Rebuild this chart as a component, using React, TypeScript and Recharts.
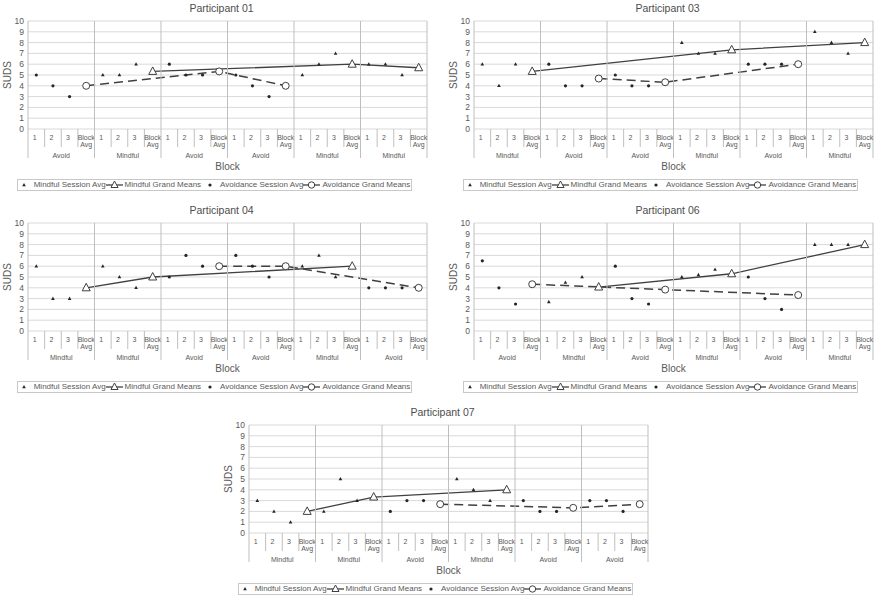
import React from "react";
import {
  CartesianGrid,
  ComposedChart,
  Label,
  Legend,
  Line,
  XAxis,
  YAxis,
} from "recharts";

// sub-categories inside each block, and the y ticks
const SUBS = ["1", "2", "3", "Block Avg"];
const Y_TICKS = [0, 1, 2, 3, 4, 5, 6, 7, 8, 9, 10];
const LEGEND_ORDER = ["ms", "mg", "as", "ag"];

// Participant 01
const P01_BLOCKS = ["Avoid", "Mindful", "Avoid", "Avoid", "Mindful", "Mindful"];
const P01_SESSIONS = [[5, 4, 3], [5, 5, 6], [6, 5, 5], [5, 4, 3], [5, 6, 7], [6, 6, 5]];
const P01_MEANS = [4, 5.33, 5.33, 4, 6, 5.67];

// Participant 03
const P03_BLOCKS = ["Mindful", "Avoid", "Avoid", "Mindful", "Avoid", "Mindful"];
const P03_SESSIONS = [[6, 4, 6], [6, 4, 4], [5, 4, 4], [8, 7, 7], [6, 6, 6], [9, 8, 7]];
const P03_MEANS = [5.33, 4.67, 4.33, 7.33, 6, 8];

// Participant 04
const P04_BLOCKS = ["Mindful", "Mindful", "Avoid", "Avoid", "Mindful", "Avoid"];
const P04_SESSIONS = [[6, 3, 3], [6, 5, 4], [5, 7, 6], [7, 6, 5], [6, 7, 5], [4, 4, 4]];
const P04_MEANS = [4, 5, 6, 6, 6, 4];

// Participant 06
const P06_BLOCKS = ["Avoid", "Mindful", "Avoid", "Mindful", "Avoid", "Mindful"];
const P06_SESSIONS = [[6.5, 4, 2.5], [2.7, 4.5, 5], [6, 3, 2.5], [5, 5.2, 5.7], [5, 3, 2], [8, 8, 8]];
const P06_MEANS = [4.33, 4.07, 3.83, 5.3, 3.33, 8];

// Participant 07
const P07_BLOCKS = ["Mindful", "Mindful", "Avoid", "Mindful", "Avoid", "Avoid"];
const P07_SESSIONS = [[3, 2, 1], [2, 5, 3], [2, 3, 3], [5, 4, 3], [3, 2, 2], [3, 3, 2]];
const P07_MEANS = [2, 3.33, 2.67, 4, 2.33, 2.67];

const FONT = '"Liberation Sans", Arial, sans-serif';
const TEXT = "#595959";
const INK = "#404040";
const SEP = "#bfbfbf";

const W = 440;
const H = 200;
const PLOT_TOP = 21;
const PLOT_BOTTOM = 129;
const PLOT_LEFT = 28;
const PLOT_RIGHT = 427;
const BAND = (PLOT_RIGHT - PLOT_LEFT) / 24;

type Row = {
  key: string;
  sub: string;
  group: string;
  ms: number | null;
  mg: number | null;
  as: number | null;
  ag: number | null;
};

function buildRows(blocks: string[], sessions: number[][], means: number[]): Row[] {
  const rows: Row[] = [];
  blocks.forEach((g, b) => {
    const mindful = g === "Mindful";
    SUBS.forEach((sub, s) => {
      const v = s < 3 ? sessions[b][s] : means[b];
      rows.push({
        key: `${b}-${s}`,
        sub,
        group: g,
        ms: s < 3 && mindful ? v : null,
        mg: s === 3 && mindful ? v : null,
        as: s < 3 && !mindful ? v : null,
        ag: s === 3 && !mindful ? v : null,
      });
    });
  });
  return rows;
}

function SubTick(props: any) {
  const { x, payload, rows } = props;
  const i = payload.index;
  const row: Row = rows[i];
  const left = x - BAND / 2;
  return (
    <g>
      {i % 4 === 0 ? (
        <line x1={left} x2={left} y1={PLOT_TOP} y2={158} stroke={SEP} />
      ) : (
        <line x1={left} x2={left} y1={PLOT_BOTTOM} y2={147} stroke={SEP} />
      )}
      {i === rows.length - 1 && (
        <line x1={x + BAND / 2} x2={x + BAND / 2} y1={PLOT_TOP} y2={158} stroke={SEP} />
      )}
      {row.sub === "Block Avg" ? (
        <text x={x} y={139.5} fontSize={7} fill={TEXT} textAnchor="middle" fontFamily={FONT}>
          <tspan x={x}>Block</tspan>
          <tspan x={x} dy={7}>Avg</tspan>
        </text>
      ) : (
        <text x={x - 1.5} y={139.5} fontSize={7} fill={TEXT} textAnchor="middle" fontFamily={FONT}>
          {row.sub}
        </text>
      )}
      {i % 4 === 1 && (
        <text x={x + BAND / 2} y={157.5} fontSize={7} fill={TEXT} textAnchor="middle" fontFamily={FONT}>
          {row.group}
        </text>
      )}
    </g>
  );
}

const smallTri = (p: any) =>
  p.cy == null || p.value == null ? (
    <g key={`st-${p.index}`} />
  ) : (
    <polygon
      key={`st-${p.index}`}
      points={`${p.cx},${p.cy - 2} ${p.cx - 1.8},${p.cy + 1.3} ${p.cx + 1.8},${p.cy + 1.3}`}
      fill="#262626"
    />
  );

const smallDot = (p: any) =>
  p.cy == null || p.value == null ? (
    <g key={`sd-${p.index}`} />
  ) : (
    <circle key={`sd-${p.index}`} cx={p.cx} cy={p.cy} r={1.6} fill="#262626" />
  );

const openTri = (p: any) =>
  p.cy == null || p.value == null ? (
    <g key={`ot-${p.index}`} />
  ) : (
    <polygon
      key={`ot-${p.index}`}
      points={`${p.cx},${p.cy - 4.5} ${p.cx - 4},${p.cy + 3} ${p.cx + 4},${p.cy + 3}`}
      fill="#fff"
      stroke={INK}
      strokeWidth={1}
    />
  );

const openCircle = (p: any) =>
  p.cy == null || p.value == null ? (
    <g key={`oc-${p.index}`} />
  ) : (
    <circle key={`oc-${p.index}`} cx={p.cx} cy={p.cy} r={3.5} fill="#fff" stroke={INK} strokeWidth={1} />
  );

function LegendIcon({ k }: { k: string }) {
  if (k === "ms")
    return (
      <svg width={10} height={10} style={{ flexShrink: 0 }}>
        <polygon points="5,3 3.2,6.3 6.8,6.3" fill="#262626" />
      </svg>
    );
  if (k === "as")
    return (
      <svg width={10} height={10} style={{ flexShrink: 0 }}>
        <circle cx={5} cy={5} r={1.6} fill="#262626" />
      </svg>
    );
  return (
    <svg width={17} height={10} style={{ flexShrink: 0 }}>
      <line x1={0} x2={17} y1={5} y2={5} stroke={INK} strokeWidth={1.3} />
      {k === "mg" ? (
        <polygon points="8.5,1 5,7.5 12,7.5" fill="#fff" stroke={INK} />
      ) : (
        <circle cx={8.5} cy={5} r={3.2} fill="#fff" stroke={INK} />
      )}
    </svg>
  );
}

function LegendBox(props: any) {
  const items = [...(props.payload ?? [])].sort(
    (a: any, b: any) => LEGEND_ORDER.indexOf(a.dataKey) - LEGEND_ORDER.indexOf(b.dataKey)
  );
  return (
    <div
      style={{
        border: "1px solid #c8c8c8",
        height: 12,
        width: 395,
        boxSizing: "border-box",
        display: "flex",
        alignItems: "center",
        justifyContent: "center",
        fontFamily: FONT,
        fontSize: 8,
        lineHeight: "10px",
        color: TEXT,
        whiteSpace: "nowrap",
        overflow: "visible",
      }}
    >
      {items.map((it: any, i: number) => {
        const session = it.dataKey === "ms" || it.dataKey === "as";
        return (
          <span
            key={i}
            style={{
              display: "inline-flex",
              alignItems: "center",
              flexShrink: 0,
              marginLeft: i > 0 && session ? 4 : 0,
            }}
          >
            <LegendIcon k={it.dataKey} />
            <span style={{ marginLeft: session ? 5 : 2, flexShrink: 0, whiteSpace: "nowrap" }}>{it.value}</span>
          </span>
        );
      })}
    </div>
  );
}

function SudsLabel(props: any) {
  const { viewBox } = props;
  const cx = 7;
  const cy = viewBox.y + viewBox.height / 2;
  return (
    <text
      x={cx}
      y={cy}
      transform={`rotate(-90 ${cx} ${cy})`}
      textAnchor="middle"
      dominantBaseline="central"
      fontSize={10}
      fill={TEXT}
      fontFamily={FONT}
    >
      SUDS
    </text>
  );
}

function Panel({ title, rows, left, top }: { title: string; rows: Row[]; left: number; top: number }) {
  return (
    <div style={{ position: "absolute", left, top, width: W, height: H }}>
      <div
        style={{
          position: "absolute",
          left: 0,
          top: 2,
          width: PLOT_LEFT + PLOT_RIGHT - 12,
          textAlign: "center",
          fontFamily: FONT,
          fontSize: 10.5,
          lineHeight: "12px",
          color: "#4d4d4d",
        }}
      >
        {title}
      </div>
      <ComposedChart
        width={W}
        height={H}
        data={rows}
        margin={{ top: PLOT_TOP, right: W - PLOT_RIGHT, bottom: H - PLOT_BOTTOM - 50, left: 0 }}
        style={{ fontFamily: FONT }}
      >
        <CartesianGrid vertical={false} stroke="#d9d9d9" />
        <XAxis
          dataKey="key"
          scale="band"
          interval={0}
          height={50}
          tickLine={false}
          axisLine={false}
          tick={(p: any) => <SubTick {...p} rows={rows} />}
        >
          <Label value="Block" position="insideBottom" offset={9} fill={TEXT} fontSize={10} />
        </XAxis>
        <YAxis
          type="number"
          domain={[0, 10]}
          ticks={Y_TICKS}
          interval={0}
          width={PLOT_LEFT}
          tickLine={false}
          axisLine={false}
          tickSize={2}
          tickMargin={2}
          tick={{ fontSize: 8.5, fill: TEXT }}
        >
          <Label content={SudsLabel} />
        </YAxis>
        <Legend
          layout="horizontal"
          verticalAlign="middle"
          align="center"
          wrapperStyle={{ left: 17, top: 179, width: 395, height: 12 }}
          content={LegendBox}
        />
        <Line
          dataKey="ms"
          name="Mindful Session Avg"
          stroke="none"
          dot={smallTri}
          activeDot={false}
          isAnimationActive={false}
        />
        <Line
          dataKey="mg"
          name="Mindful Grand Means"
          stroke={INK}
          strokeWidth={1.3}
          connectNulls
          dot={openTri}
          activeDot={false}
          isAnimationActive={false}
        />
        <Line
          dataKey="as"
          name="Avoidance Session Avg"
          stroke="none"
          dot={smallDot}
          activeDot={false}
          isAnimationActive={false}
        />
        <Line
          dataKey="ag"
          name="Avoidance Grand Means"
          stroke={INK}
          strokeWidth={1.5}
          strokeDasharray="9 5"
          connectNulls
          dot={openCircle}
          activeDot={false}
          isAnimationActive={false}
        />
      </ComposedChart>
    </div>
  );
}

export default function App() {
  return (
    <div
      style={{
        position: "absolute",
        left: 0,
        top: 0,
        width: 879,
        height: 600,
        background: "#fff",
        overflow: "hidden",
      }}
    >
      <Panel title="Participant 01" rows={buildRows(P01_BLOCKS, P01_SESSIONS, P01_MEANS)} left={0} top={0} />
      <Panel title="Participant 03" rows={buildRows(P03_BLOCKS, P03_SESSIONS, P03_MEANS)} left={446} top={0} />
      <Panel title="Participant 04" rows={buildRows(P04_BLOCKS, P04_SESSIONS, P04_MEANS)} left={0} top={202} />
      <Panel title="Participant 06" rows={buildRows(P06_BLOCKS, P06_SESSIONS, P06_MEANS)} left={446} top={202} />
      <Panel title="Participant 07" rows={buildRows(P07_BLOCKS, P07_SESSIONS, P07_MEANS)} left={221} top={404} />
    </div>
  );
}
